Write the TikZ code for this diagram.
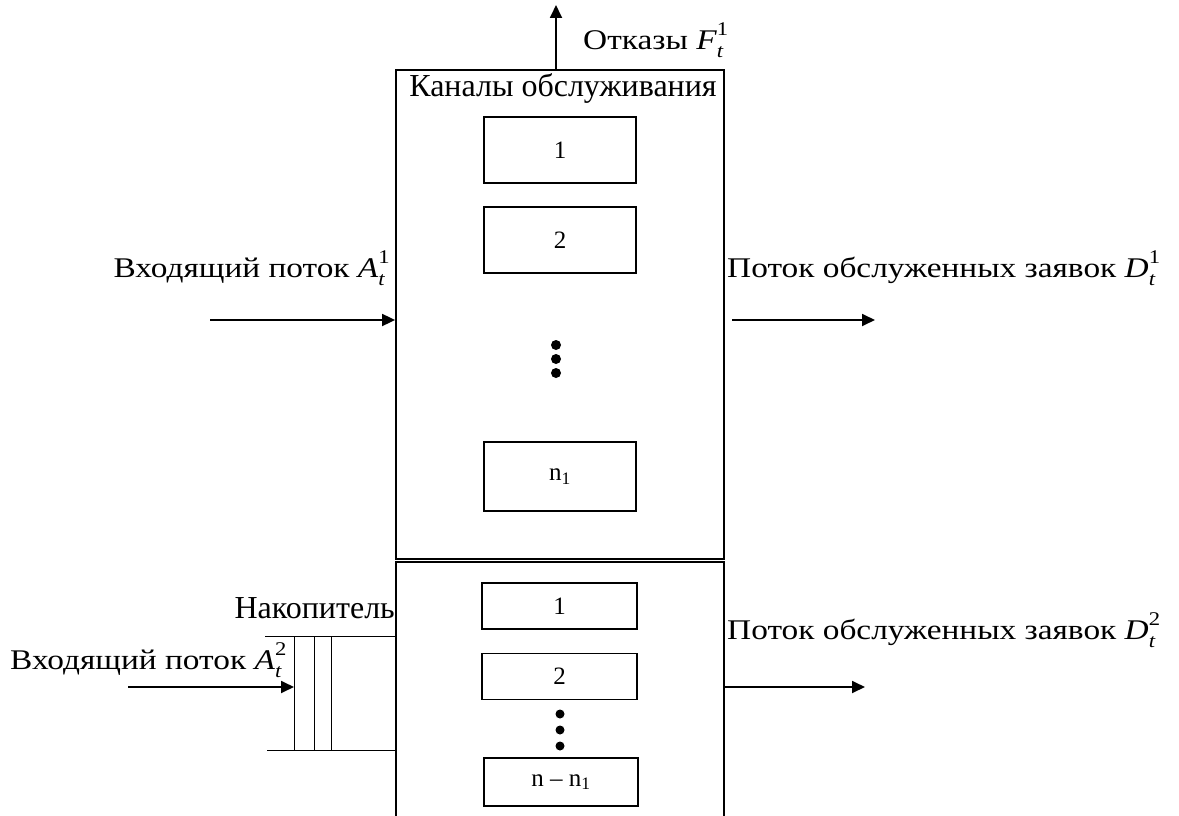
\documentclass[tikz,border=0pt]{standalone}
\usepackage{fontspec}
\setmainfont{Liberation Serif}
\newfontfamily\cambfont[FakeStretch=1.17]{Liberation Serif}
\usetikzlibrary{arrows.meta}
\newcommand\vsym[3]{\textit{#1}\rlap{\raisebox{-0.28em}{\scalebox{0.68}{\textit{#2}}}}\raisebox{0.5em}{\scalebox{0.68}{#3}}}
\begin{document}
\begin{tikzpicture}[x=1pt,y=-1pt,
  outer/.style={draw, line width=1.8pt, inner sep=0pt},
  chan/.style={draw, line width=1.4pt, minimum width=152pt, minimum height=66pt, inner sep=0pt, font=\fontsize{25}{28}\selectfont},
  chanb/.style={chan, minimum height=46pt},
  flow/.style={line width=1.8pt, -{Triangle[length=13pt,width=12pt]}},
  lbl/.style={font=\cambfont\fontsize{28.5}{32}\selectfont, inner sep=0pt},
  qline/.style={line width=0.9pt},
  dotc/.style={fill=black, circle, inner sep=0pt, minimum size=10pt}]
\useasboundingbox (0,0) rectangle (1179,816);
% outer boxes
\node[outer, minimum width=328pt, minimum height=489pt] (top) at (560,314.5) {};
\node[outer, minimum width=328pt, minimum height=280pt] (bot) at (560,702) {};
% channels top
\node[chan] (c1) at (560,150) {1};
\node[chan] (c2) at (560,240) {2};
\node[chan, minimum height=69pt] (cn) at (560,476.5) {n\textsubscript{1}};
\node[dotc] (d1) at (556,345) {};
\node[dotc] (d2) at (556,359) {};
\node[dotc] (d3) at (556,373) {};
% channels bottom
\node[chanb, minimum width=155pt] (b1) at (559.5,606) {1};
\node[chanb, minimum width=155pt] (b2) at (559.5,676.5) {2};
\node[chanb, minimum width=154pt, minimum height=48pt] (bn) at (561,782) {n -- n\textsubscript{1}};
\node[dotc, minimum size=9pt] (e1) at (560,714) {};
\node[dotc, minimum size=9pt] (e2) at (560,730) {};
\node[dotc, minimum size=9pt] (e3) at (560,746) {};
% labels
\node[inner sep=0pt, font=\fontsize{32}{36}\selectfont] (kan) at (563,88) {Каналы обслуживания};
\node[lbl, anchor=west] (otk) at (583,40) {Отказы \vsym{F}{t}{1}};
\node[lbl, anchor=east] (in1) at (390,268) {Входящий поток \vsym{A}{t}{1}};
\node[lbl, anchor=west] (out1) at (727,268) {Поток обслуженных заявок \vsym{D}{t}{1}};
\node[lbl, anchor=west] (out2) at (727,630) {Поток обслуженных заявок \vsym{D}{t}{2}};
\node[lbl, anchor=west] (in2) at (10,660) {Входящий поток \vsym{A}{t}{2}};
\node[inner sep=0pt, anchor=east, font=\fontsize{32}{36}\selectfont] (nak) at (395,608) {Накопитель};
% queue
\coordinate (qt0) at (265,636);
\coordinate (qb0) at (267,750);
\coordinate (q1t) at (294,636);
\coordinate (q1b) at (294,750);
\coordinate (q2t) at (314,636);
\coordinate (q2b) at (314,750);
\coordinate (q3t) at (331,636);
\coordinate (q3b) at (331,750);
\draw[qline] (qt0) -- (qt0 -| bot.west);
\draw[qline] (qb0) -- (qb0 -| bot.west);
\draw[qline] (q1t) -- (q1b);
\draw[qline] (q2t) -- (q2b);
\draw[qline] (q3t) -- (q3b);
% arrows
\coordinate (refend) at (556,5);
\draw[flow] (top.north -| refend) -- (refend);
\coordinate (in1s) at (210,320);
\draw[flow] (in1s) -- (in1s -| top.west);
\coordinate (o1s) at (732,320);
\coordinate (o1e) at (875,320);
\draw[flow] (o1s) -- (o1e);
\coordinate (o2e) at (865,687);
\draw[flow] (o2e -| bot.east) -- (o2e);
\coordinate (in2s) at (128,687);
\draw[flow] (in2s) -- (in2s -| q1t);
\end{tikzpicture}
\end{document}
